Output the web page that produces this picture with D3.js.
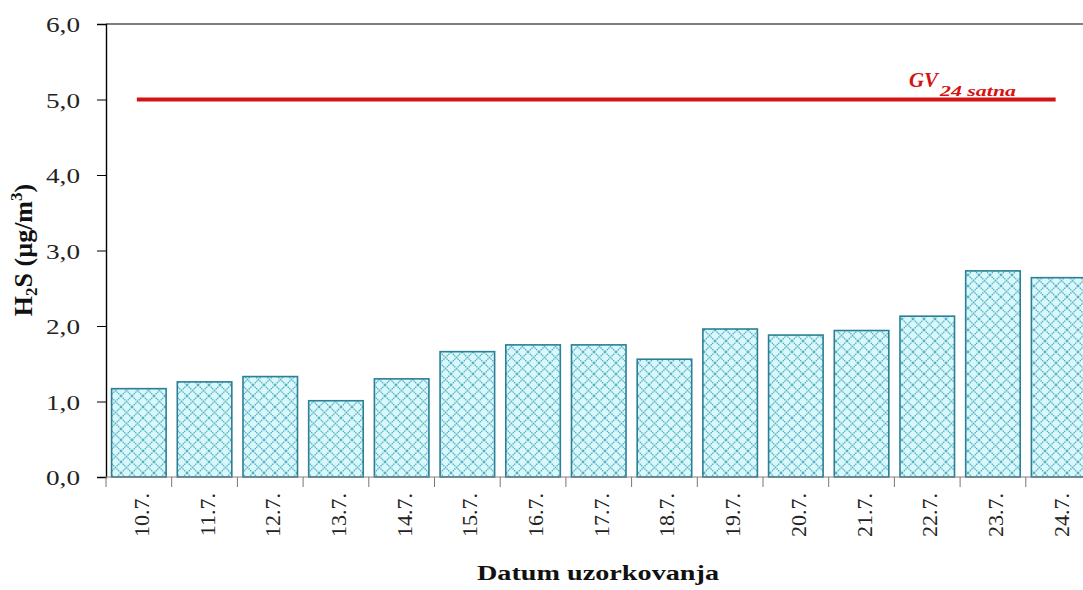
<!DOCTYPE html>
<html><head><meta charset="utf-8">
<script src="https://cdn.jsdelivr.net/npm/d3@7"></script>
<style>body{margin:0;background:#fff;overflow:hidden}</style>
</head><body>
<svg id="c" width="1083" height="590"></svg>
<script>
const categories = ["10.7.","11.7.","12.7.","13.7.","14.7.","15.7.","16.7.","17.7.","18.7.","19.7.","20.7.","21.7.","22.7.","23.7.","24.7."];
const values = [1.17,1.26,1.33,1.01,1.30,1.66,1.75,1.75,1.56,1.96,1.88,1.94,2.13,2.73,2.64];
const limitValue = 5.0;
const yTicks = [0,1,2,3,4,5,6];

(function(){
const svg = d3.select("#c");
const mLeft = 106, mTop = 24, mBottom = 477, bandW = 65.7;
const mRight = mLeft + bandW * categories.length;
const serif = "'Liberation Serif', 'Times New Roman', serif";

const defs = svg.append("defs");
const pat = defs.append("pattern").attr("id","hatch").attr("patternUnits","userSpaceOnUse")
  .attr("width",11).attr("height",11).attr("x",0).attr("y",0);
pat.append("rect").attr("width",11).attr("height",11).attr("fill","#d8f8fc");
pat.append("path").attr("d","M0,0 L11,11 M11,0 L0,11 M-1,10 L1,12 M10,-1 L12,1")
  .attr("stroke","#55aebf").attr("stroke-width",1.2).attr("stroke-dasharray","1.6,0.7");

const x = d3.scaleBand().domain(categories).range([mLeft, mRight]).paddingInner(0.17).paddingOuter(0.085);
const y = d3.scaleLinear().domain([0,6]).range([mBottom, mTop]);

svg.selectAll("rect.bar").data(values).enter().append("rect")
  .attr("class","bar")
  .attr("x",(d,i)=>x(categories[i]))
  .attr("width",x.bandwidth())
  .attr("y",d=>y(d))
  .attr("height",d=>y(0)-y(d))
  .attr("fill","url(#hatch)")
  .attr("stroke","#2b7f96").attr("stroke-width",1.6);

svg.append("line").attr("x1",mLeft).attr("x2",1083).attr("y1",mTop).attr("y2",mTop)
  .attr("stroke","#000").attr("stroke-width",1.2);

const yAxis = svg.append("g").attr("transform",`translate(${mLeft},0)`)
  .call(d3.axisLeft(y).tickValues(yTicks).tickSize(9).tickPadding(17)
    .tickFormat(d=>d3.format(".1f")(d).replace(".",",")));
yAxis.select(".domain").attr("stroke","#000").attr("stroke-width",1.4);
yAxis.selectAll(".tick line").attr("stroke","#000").attr("stroke-width",1);
yAxis.selectAll("text").attr("font-family",serif).attr("font-size",21).attr("fill","#222")
  .attr("textLength",34).attr("lengthAdjust","spacingAndGlyphs").attr("dy","0.36em");

const xAxisG = svg.append("g");
xAxisG.append("line").attr("x1",mLeft).attr("x2",1083).attr("y1",mBottom).attr("y2",mBottom)
  .attr("stroke","#8a7f7f").attr("stroke-width",1.2);
const boundaries = d3.range(categories.length+1).map(i=>mLeft + i*bandW);
xAxisG.selectAll("line.tk").data(boundaries).enter().append("line")
  .attr("x1",d=>d).attr("x2",d=>d).attr("y1",mBottom).attr("y2",mBottom+10)
  .attr("stroke","#777").attr("stroke-width",1);
xAxisG.selectAll("text").data(categories).enter().append("text")
  .attr("transform",d=>`translate(${x(d)+x.bandwidth()/2+10},493) rotate(-90)`)
  .attr("text-anchor","end")
  .attr("font-family",serif).attr("font-size",22).attr("fill","#222")
  .text(d=>d);

svg.append("line").attr("x1",x(categories[0])+x.bandwidth()/2-2).attr("x2",x(categories[categories.length-1])+x.bandwidth()/2-3)
  .attr("y1",y(limitValue)).attr("y2",y(limitValue))
  .attr("stroke","#d41414").attr("stroke-width",4);

const lblG = svg.append("g").attr("font-family",serif).attr("font-style","italic").attr("font-weight","bold").attr("fill","#d41414");
lblG.append("text").attr("x",909).attr("y",87).attr("font-size",20)
  .attr("textLength",29).attr("lengthAdjust","spacingAndGlyphs").text("GV");
lblG.append("text").attr("x",940).attr("y",96).attr("font-size",15)
  .attr("textLength",76).attr("lengthAdjust","spacingAndGlyphs").text("24 satna");

svg.append("text").attr("x",598).attr("y",580).attr("text-anchor","middle")
  .attr("font-family",serif).attr("font-weight","bold").attr("font-size",20)
  .attr("textLength",242).attr("lengthAdjust","spacingAndGlyphs")
  .attr("fill","#111").text("Datum  uzorkovanja");

const yt = svg.append("text").attr("transform","translate(32,250) rotate(-90)").attr("text-anchor","middle")
  .attr("font-family",serif).attr("font-weight","bold").attr("font-size",26).attr("fill","#111");
yt.append("tspan").text("H");
yt.append("tspan").attr("font-size",17).attr("dy",5).text("2");
yt.append("tspan").attr("dy",-5).text("S (µg/m");
yt.append("tspan").attr("font-size",17).attr("dy",-10).text("3");
yt.append("tspan").attr("dy",10).text(")");
})();
</script>
</body></html>
